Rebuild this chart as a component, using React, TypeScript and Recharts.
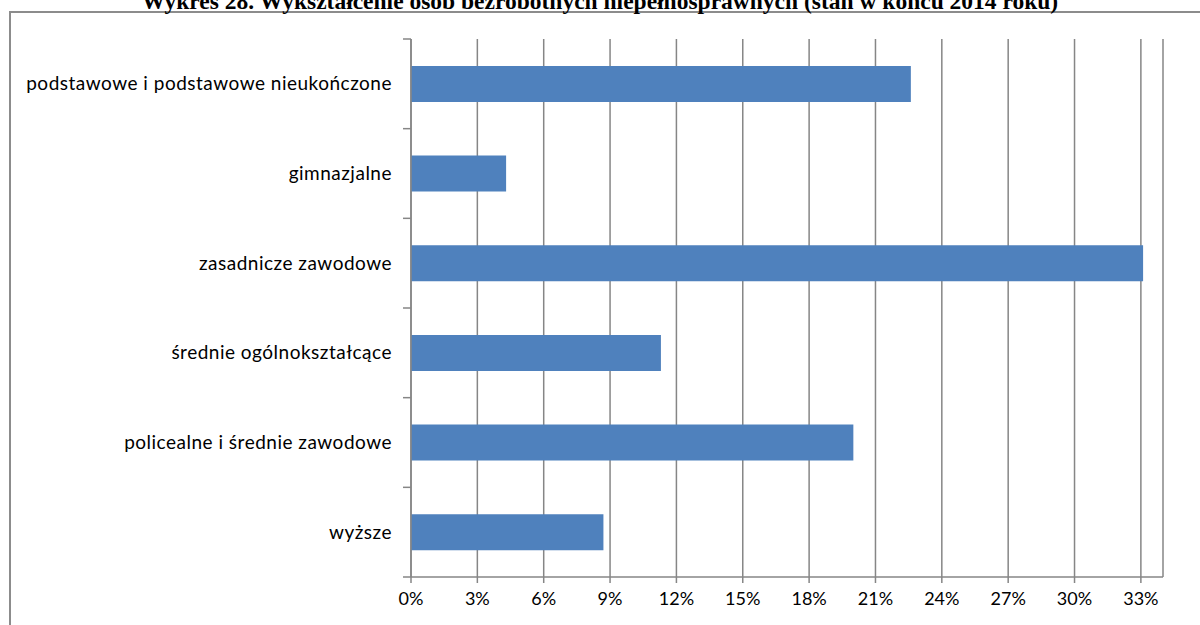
import React from 'react';
import { BarChart, Bar, XAxis, YAxis, CartesianGrid } from 'recharts';

const TITLE = 'Wykres 28. Wykształcenie osób bezrobotnych niepełnosprawnych (stan w końcu 2014 roku)';

const categories = [
  'podstawowe i podstawowe nieukończone',
  'gimnazjalne',
  'zasadnicze zawodowe',
  'średnie ogólnokształcące',
  'policealne i średnie zawodowe',
  'wyższe',
];

// share of unemployed disabled persons, %
const shares = [22.6, 4.3, 33.1, 11.3, 20.0, 8.7];

const percentTicks = [0, 3, 6, 9, 12, 15, 18, 21, 24, 27, 30, 33];

const data = categories.map((name, i) => ({ name, value: shares[i] }));

const W = 1200;
const H = 625;
const AXIS_GRAY = '#868686';
const BAR_BLUE = '#4F81BD';
const LABEL_FONT = 'Lato, "Open Sans", sans-serif';
const Y_TICK_SIZE = 8;
const Y_TICK_MARGIN = 11;
const TOP = 39;
const PLOT_BOTTOM = 577;

// label at the band centre, small tick marks on the band boundaries (Excel style)
const CategoryTick = (props: any) => {
  const { x, y, payload, index } = props;
  const half =
    payload && payload.offset ? payload.offset : (PLOT_BOTTOM - TOP) / categories.length / 2;
  const x1 = x + Y_TICK_MARGIN;
  const x2 = x1 + Y_TICK_SIZE;
  return (
    <g>
      <line x1={x1} x2={x2} y1={y - half} y2={y - half} stroke={AXIS_GRAY} strokeWidth={1.5} />
      {index === categories.length - 1 && (
        <line x1={x1} x2={x2} y1={y + half} y2={y + half} stroke={AXIS_GRAY} strokeWidth={1.5} />
      )}
      <text
        x={x}
        y={y}
        dy="0.35em"
        textAnchor="end"
        fill="#000"
        fontSize={19}
        letterSpacing={0.5}
        fontFamily={LABEL_FONT}
      >
        {payload.value}
      </text>
    </g>
  );
};

export default function App() {
  return (
    <div style={{ position: 'absolute', left: 0, top: 0, width: W, height: H, overflow: 'hidden', background: '#fff' }}>
      <svg width={W} height={H} style={{ position: 'absolute', left: 0, top: 0 }}>
        <rect x={10} y={12} width={W + 20} height={H + 20} fill="none" stroke="#8c8c8c" strokeWidth={2} />
        <text
          x={600}
          y={9}
          textAnchor="middle"
          fontFamily='"Liberation Serif", "Times New Roman", serif'
          fontWeight="bold"
          fontSize={23.5}
          fill="#000"
        >
          {TITLE}
        </text>
      </svg>
      <div style={{ position: 'absolute', left: 0, top: 0 }}>
        <BarChart
          width={W}
          height={H}
          data={data}
          layout="vertical"
          margin={{ top: TOP, right: 37, bottom: 0, left: 0 }}
          barCategoryGap="30%"
        >
          <CartesianGrid horizontal={false} stroke={AXIS_GRAY} strokeWidth={1.5} />
          <XAxis
            type="number"
            domain={[0, 34]}
            ticks={percentTicks}
            tickFormatter={(v: number) => `${v}%`}
            height={48}
            tickSize={6}
            tickMargin={9}
            axisLine={{ stroke: AXIS_GRAY, strokeWidth: 1.5 }}
            tickLine={{ stroke: AXIS_GRAY, strokeWidth: 1.5 }}
            tick={{ fill: '#000', fontSize: 18, fontFamily: LABEL_FONT }}
            interval={0}
          />
          <YAxis
            type="category"
            dataKey="name"
            width={411}
            tickSize={Y_TICK_SIZE}
            tickMargin={Y_TICK_MARGIN}
            tickLine={false}
            axisLine={{ stroke: AXIS_GRAY, strokeWidth: 1.5 }}
            tick={<CategoryTick />}
            interval={0}
          />
          <Bar dataKey="value" fill={BAR_BLUE} isAnimationActive={false} />
        </BarChart>
      </div>
    </div>
  );
}
